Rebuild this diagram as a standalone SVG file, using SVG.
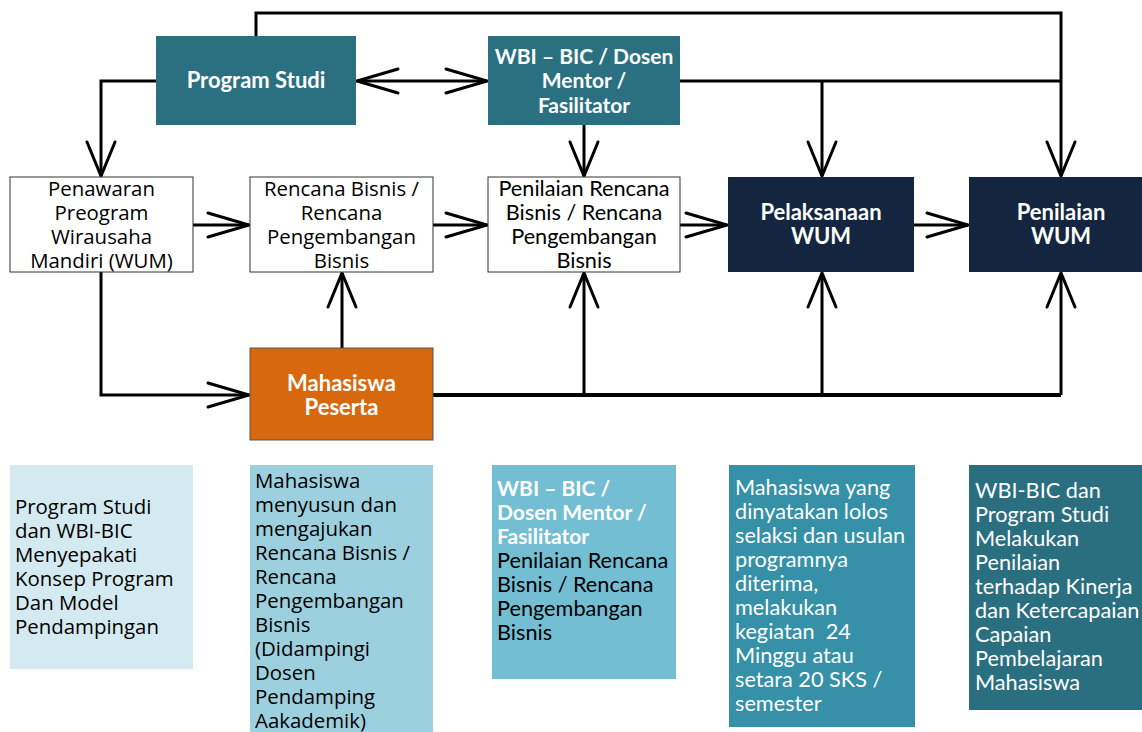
<svg xmlns="http://www.w3.org/2000/svg" width="1142" height="732" viewBox="0 0 1142 732">
<defs>
<style>
.wb{fill:#fff;stroke:#333;stroke-width:1}
.seg{font-family:"Open Sans",sans-serif;font-size:20.4px;fill:#000}
.cal{font-family:Lato,"Liberation Sans",sans-serif;font-size:21.7px;fill:#000}
.bw{font-family:Lato,"Liberation Sans",sans-serif;font-size:22px;font-weight:bold;fill:#fff}
.w{fill:#fff}
.c{text-anchor:middle}
.ln{fill:none;stroke:#000;stroke-width:3;stroke-linejoin:miter}
</style>
<marker id="ah" markerUnits="userSpaceOnUse" markerWidth="60" markerHeight="40" viewBox="-50 -20 60 40" refX="0" refY="0" orient="auto-start-reverse" overflow="visible">
<path d="M-41 -12 L0 0 L-41 12" fill="none" stroke="#000" stroke-width="3" stroke-linecap="round"/>
</marker>
<marker id="av" markerUnits="userSpaceOnUse" markerWidth="60" markerHeight="40" viewBox="-50 -20 60 40" refX="0" refY="0" orient="auto" overflow="visible">
<path d="M-34 -14 L0 0 L-34 14" fill="none" stroke="#000" stroke-width="3" stroke-linecap="round"/>
</marker>
</defs>
<rect width="1142" height="732" fill="#fff"/>

<g id="connectors">
<path class="ln" d="M256 36 V13 H1061 V176" marker-end="url(#av)"/>
<path class="ln" d="M680 81 H1061"/>
<path class="ln" d="M822 81 V176" marker-end="url(#av)"/>
<path class="ln" d="M357 81 H487" marker-start="url(#ah)" marker-end="url(#ah)"/>
<path class="ln" d="M156 81 H101 V176" marker-end="url(#av)"/>
<path class="ln" d="M584 125 V176" marker-end="url(#av)"/>
<path class="ln" d="M193 225 H249" marker-end="url(#ah)"/>
<path class="ln" d="M433 225 H487" marker-end="url(#ah)"/>
<path class="ln" d="M680 225 H727" marker-end="url(#ah)"/>
<path class="ln" d="M914 225 H968" marker-end="url(#ah)"/>
<path class="ln" d="M101 272 V395 H249" marker-end="url(#ah)"/>
<path class="ln" d="M342 348 V273" marker-end="url(#av)"/>
<path class="ln" d="M433 395 H1061" style="stroke-width:4"/>
<path class="ln" d="M584 395 V273" marker-end="url(#av)"/>
<path class="ln" d="M822 395 V273" marker-end="url(#av)"/>
<path class="ln" d="M1061 395 V273" marker-end="url(#av)"/>
</g>

<g id="programstudi">
<rect x="156" y="36" width="200" height="89" fill="#2B7080"/>
<text class="bw c" x="256" y="88">Program Studi</text>
</g>
<g id="wbi">
<rect x="488" y="36" width="192" height="89" fill="#2B7080"/>
<text class="bw c" x="584" y="64" style="font-size:21px">WBI – BIC / Dosen</text>
<text class="bw c" x="584" y="88" style="font-size:21px">Mentor /</text>
<text class="bw c" x="584" y="113" style="font-size:21px">Fasilitator</text>
</g>

<g id="penawaran">
<rect class="wb" x="10" y="177" width="183" height="95"/>
<text class="seg c" x="101.5" y="196">Penawaran</text>
<text class="seg c" x="101.5" y="220">Preogram</text>
<text class="seg c" x="101.5" y="244">Wirausaha</text>
<text class="seg c" x="101.5" y="268">Mandiri (WUM)</text>
</g>
<g id="rencana">
<rect class="wb" x="250" y="177" width="183" height="95"/>
<text class="seg c" x="341.5" y="196">Rencana Bisnis /</text>
<text class="seg c" x="341.5" y="220">Rencana</text>
<text class="seg c" x="341.5" y="244">Pengembangan</text>
<text class="seg c" x="341.5" y="268">Bisnis</text>
</g>
<g id="penilaianrencana">
<rect class="wb" x="488" y="177" width="192" height="95"/>
<text class="cal c" x="584" y="196">Penilaian Rencana</text>
<text class="cal c" x="584" y="220">Bisnis / Rencana</text>
<text class="cal c" x="584" y="244">Pengembangan</text>
<text class="cal c" x="584" y="268">Bisnis</text>
</g>
<g id="pelaksanaan">
<rect x="728" y="177" width="186" height="95" fill="#14253F"/>
<text class="bw c" x="821" y="220">Pelaksanaan</text>
<text class="bw c" x="821" y="244">WUM</text>
</g>
<g id="penilaianwum">
<rect x="969" y="177" width="186" height="95" fill="#14253F"/>
<text class="bw c" x="1061" y="220">Penilaian</text>
<text class="bw c" x="1061" y="244">WUM</text>
</g>
<g id="mahasiswa">
<rect x="250" y="348" width="183" height="92" fill="#D8680D" stroke="#555" stroke-width="1"/>
<text class="bw c" x="341.5" y="391">Mahasiswa</text>
<text class="bw c" x="341.5" y="415">Peserta</text>
</g>

<g id="noteA">
<rect x="10" y="465" width="183" height="204" fill="#D3EAF0"/>
<text class="seg" x="15"><tspan x="15" y="514">Program Studi</tspan><tspan x="15" y="538">dan WBI-BIC</tspan><tspan x="15" y="562">Menyepakati</tspan><tspan x="15" y="586">Konsep Program</tspan><tspan x="15" y="610">Dan Model</tspan><tspan x="15" y="634">Pendampingan</tspan></text>
</g>
<g id="noteB">
<rect x="250" y="465" width="183" height="272" fill="#9DD0DF"/>
<text class="seg" x="255"><tspan x="255" y="488">Mahasiswa</tspan><tspan x="255" y="512">menyusun dan</tspan><tspan x="255" y="536">mengajukan</tspan><tspan x="255" y="560">Rencana Bisnis /</tspan><tspan x="255" y="584">Rencana</tspan><tspan x="255" y="608">Pengembangan</tspan><tspan x="255" y="632">Bisnis</tspan><tspan x="255" y="656">(Didampingi</tspan><tspan x="255" y="680">Dosen</tspan><tspan x="255" y="704">Pendamping</tspan><tspan x="255" y="728">Aakademik)</tspan></text>
</g>
<g id="noteC">
<rect x="492" y="465" width="184" height="214" fill="#73BED3"/>
<text class="bw" x="497" style="font-size:21px"><tspan x="497" y="496">WBI – BIC /</tspan><tspan x="497" y="520">Dosen Mentor /</tspan><tspan x="497" y="544">Fasilitator</tspan></text>
<text class="cal" x="497"><tspan x="497" y="568">Penilaian Rencana</tspan><tspan x="497" y="592">Bisnis / Rencana</tspan><tspan x="497" y="616">Pengembangan</tspan><tspan x="497" y="640">Bisnis</tspan></text>
</g>
<g id="noteD">
<rect x="729" y="465" width="186" height="262" fill="#3590A8"/>
<text class="cal w" x="735"><tspan x="735" y="495">Mahasiswa yang</tspan><tspan x="735" y="519">dinyatakan lolos</tspan><tspan x="735" y="543">selaksi dan usulan</tspan><tspan x="735" y="567">programnya</tspan><tspan x="735" y="591">diterima,</tspan><tspan x="735" y="615">melakukan</tspan><tspan x="735" y="639" xml:space="preserve">kegiatan  24</tspan><tspan x="735" y="663">Minggu atau</tspan><tspan x="735" y="687">setara 20 SKS /</tspan><tspan x="735" y="711">semester</tspan></text>
</g>
<g id="noteE">
<rect x="969" y="465" width="186" height="245" fill="#2A6F80"/>
<text class="cal w" x="975"><tspan x="975" y="498">WBI-BIC dan</tspan><tspan x="975" y="522">Program Studi</tspan><tspan x="975" y="546">Melakukan</tspan><tspan x="975" y="570">Penilaian</tspan><tspan x="975" y="594">terhadap Kinerja</tspan><tspan x="975" y="618">dan Ketercapaian</tspan><tspan x="975" y="642">Capaian</tspan><tspan x="975" y="666">Pembelajaran</tspan><tspan x="975" y="690">Mahasiswa</tspan></text>
</g>
</svg>
